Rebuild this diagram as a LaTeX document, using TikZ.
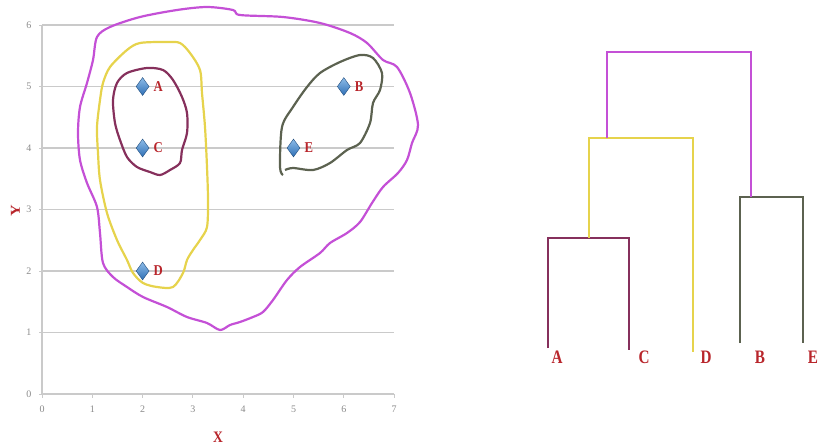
\documentclass[tikz,border=0pt]{standalone}
\usepackage{fontspec}
\setmainfont{Liberation Serif}
\usetikzlibrary{shapes.geometric}
\definecolor{gridGray}{HTML}{CACACA}
\definecolor{tickGray}{HTML}{8A8A8A}
\definecolor{labelRed}{HTML}{B8252B}
\definecolor{ptBlue}{HTML}{2F6FB5}
\definecolor{ptLight}{HTML}{8DBCE8}
\definecolor{purple}{HTML}{C450D6}
\definecolor{yellow}{HTML}{E6D34C}
\definecolor{maroon}{HTML}{86305C}
\definecolor{olive}{HTML}{5C6250}
\tikzset{
  gridline/.style={draw=gridGray, line width=1.6pt},
  axisline/.style={draw=gridGray, line width=1.6pt},
  ticklabel/.style={text=tickGray, font=\fontsize{10}{10}\selectfont},
  axistitle/.style={text=labelRed, font=\fontsize{16}{16}\selectfont\bfseries, xscale=0.85},
  point/.style={diamond, draw=ptBlue!70!black, line width=0.4pt, top color=ptLight,
                bottom color=ptBlue, minimum width=13pt, minimum height=18pt, inner sep=0pt},
  ptlabel/.style={text=labelRed, font=\fontsize{15}{15}\selectfont\bfseries, xscale=0.85, inner sep=1pt},
  leaflabel/.style={text=labelRed, font=\fontsize{19}{19}\selectfont\bfseries, xscale=0.8, inner sep=0pt},
  pencurve/.style={line width=2.2pt, line join=round},
  branch/.style={line width=2.8pt}
}
\begin{document}
\begin{tikzpicture}[x=1pt, y=-1pt]
\useasboundingbox (0,0) rectangle (821,447);

% scatter plot, data units
\begin{scope}[shift={(42,394)}, x=50.3pt, y=61.5pt]
  \foreach \k in {1,...,6}
    \draw[gridline] (0,\k) -- (7,\k);
  \draw[axisline] (0,0) -- (7,0);
  \draw[axisline] (0,0) -- (0,6);
  \foreach \k in {0,...,7} {
    \draw[axisline, line width=1pt] (\k,0) -- (\k,-0.07);
    \node[ticklabel] at (\k,-0.25) {\k};
  }
  \foreach \k in {0,...,6} {
    \draw[axisline, line width=1pt] (0,\k) -- (-0.06,\k);
    \node[ticklabel] at (-0.26,\k) {\k};
  }
  \node[axistitle] (xtitle) at (3.5,-0.7) {X};
  \node[axistitle, rotate=90] (ytitle) at (-0.53,2.98) {Y};

  \node[point] (pA) at (2,5) {};
  \node[point] (pC) at (2,4) {};
  \node[point] (pD) at (2,2) {};
  \node[point] (pB) at (6,5) {};
  \node[point] (pE) at (5,4) {};
\end{scope}
\node[ptlabel, right=4pt] at (pA.east) {A};
\node[ptlabel, right=4pt] at (pC.east) {C};
\node[ptlabel, right=4pt] at (pD.east) {D};
\node[ptlabel, right=4pt] at (pB.east) {B};
\node[ptlabel, right=4pt] at (pE.east) {E};

% hand drawn clusters
\draw[pencurve, purple] plot[smooth cycle, tension=0.5] coordinates {
  (97,37) (110,27) (140,17) (177,10) (207,7) (233,10) (240,15) (283,17)
  (320,23) (350,33) (367,43) (383,60) (397,67) (410,93) (418,125) (412,143)
  (407,160) (398,173) (383,187) (372,203) (360,222) (347,233) (330,243)
  (320,253) (300,267) (287,280) (273,300) (263,312) (253,317) (240,322)
  (230,325) (220,330) (207,323) (187,317) (167,307) (143,297) (127,287)
  (113,277) (103,263) (100,233) (97,207) (87,183) (80,160) (78,133)
  (80,107) (87,83) (93,60)};
\draw[pencurve, yellow] plot[smooth cycle, tension=0.5] coordinates {
  (110,67) (127,50) (140,43) (167,42) (180,43) (190,53) (200,70) (202,93)
  (205,127) (207,167) (208,200) (207,227) (200,240) (193,250) (187,260)
  (183,273) (173,287) (157,287) (143,283) (133,273) (127,260) (117,240)
  (107,213) (100,180) (98,153) (97,127) (100,100) (103,83)};
\draw[pencurve, maroon] plot[smooth cycle, tension=0.5] coordinates {
  (117,83) (127,73) (147,68) (163,70) (173,80) (182,97) (187,113) (187,133)
  (182,150) (180,163) (170,170) (160,175) (150,172) (137,167) (127,157)
  (120,140) (115,123) (113,100)};
\draw[pencurve, olive] plot[smooth, tension=0.5] coordinates {
  (283,175) (280,167) (282,127) (293,107) (307,87) (320,73) (340,62)
  (360,55) (373,58) (382,73) (380,90) (373,103) (370,123) (360,143)
  (347,150) (330,163) (313,170) (293,168) (285,170)};

% dendrogram
\coordinate (lA) at (548,348);
\coordinate (lC) at (629,350);
\coordinate (lD) at (693,352);
\coordinate (lB) at (740,343);
\coordinate (lE) at (803,343);
\coordinate (jAC) at (589,238);
\coordinate (jACD) at (607,138);
\coordinate (jBE) at (751,197);
\coordinate (jTop) at (679,52);

\draw[branch, maroon] (lA) |- (jAC) -| (lC);
\draw[branch, yellow] (jAC) |- (jACD) -| (lD);
\draw[branch, olive] (lB) |- (jBE) -| (lE);
\draw[branch, purple] (jACD) |- (jTop) -| (jBE);

\node[leaflabel] (tA) at (557,357) {A};
\node[leaflabel] (tC) at (644,357) {C};
\node[leaflabel] (tD) at (706,357) {D};
\node[leaflabel] (tB) at (760,357) {B};
\node[leaflabel] (tE) at (813,357) {E};
\end{tikzpicture}
\end{document}
